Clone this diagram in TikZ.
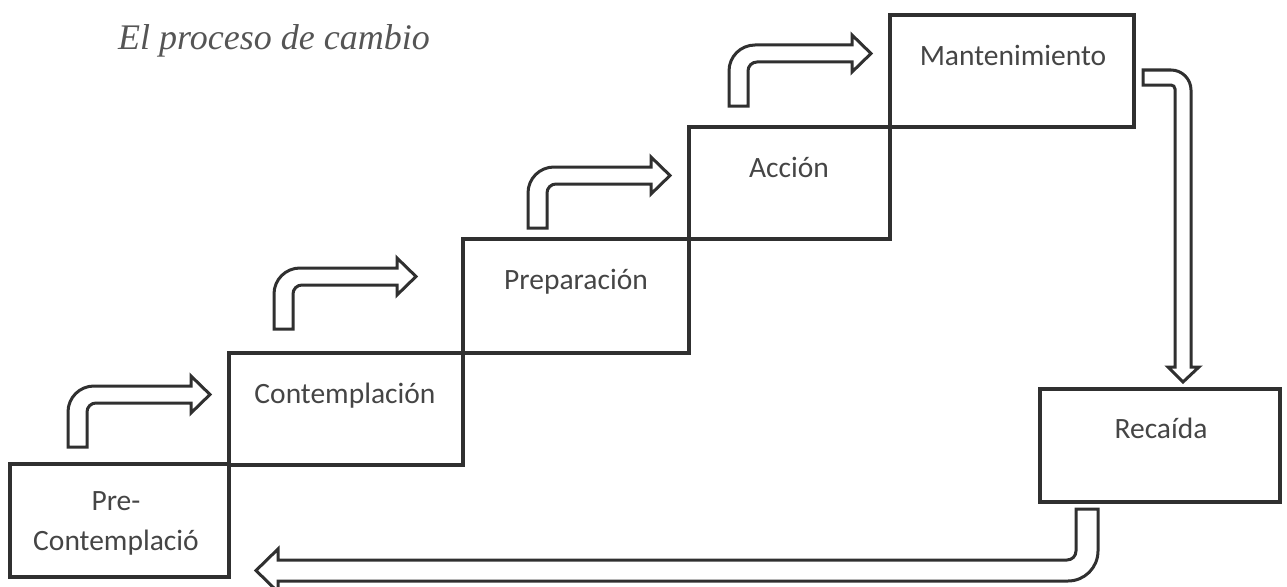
\documentclass[tikz,border=0pt]{standalone}
\usepackage{fontspec}
\setmainfont{Carlito}
\newfontfamily\titlefont{Liberation Serif}
\usetikzlibrary{calc}
\definecolor{ln}{HTML}{303030}
\definecolor{tx}{HTML}{454545}
\definecolor{tt}{HTML}{555555}
\tikzset{
  stage/.style={draw=ln, line width=3.3pt, rectangle, inner sep=0pt, outer sep=0pt},
  lbl/.style={text=tx, font=\fontsize{29.5}{40}\selectfont, inner sep=0pt, anchor=base},
  blockarr/.style={draw=ln, line width=3pt, fill=white, line join=miter},
  bentarrow/.pic={
    \draw[blockarr] (0,0) -- (0,-35) .. controls (0,-49.4) and (11.6,-61) .. (26,-61)
      -- (123,-61) -- (123,-71) -- (142,-52.5) -- (123,-34) -- (123,-44)
      -- (28,-44) .. controls (23,-44) and (19,-40) .. (19,-35) -- (19,0) -- cycle;
  }
}
\begin{document}
\begin{tikzpicture}[x=1pt,y=-1pt]
\useasboundingbox (0,0) rectangle (1287,586);

% title
\node[text=tt, font=\titlefont\itshape\fontsize{36}{40}\selectfont, anchor=base west, inner sep=0pt] (title) at (118,50) {El proceso de cambio};

% stage boxes
\node[stage, minimum width=219pt, minimum height=113pt] (pre)  at (119.5,520.5) {};
\node[stage, minimum width=234pt, minimum height=112pt] (cont) at (346,409) {};
\node[stage, minimum width=226pt, minimum height=114pt] (prep) at (576,296) {};
\node[stage, minimum width=201pt, minimum height=112pt] (acc)  at (789.5,183) {};
\node[stage, minimum width=244pt, minimum height=112pt] (mant) at (1012,71) {};
\node[stage, minimum width=240pt, minimum height=113pt] (rec)  at (1160,445.5) {};

% labels
\node[lbl, align=center] (tpre)  at (116,550) {Pre-\\Contemplació};
\node[lbl] (tcont) at (345,403) {Contemplación};
\node[lbl] (tprep) at (576,289) {Preparación};
\node[lbl] (tacc)  at (789,177) {Acción};
\node[lbl] (tmant) at (1013,66) {Mantenimiento};
\node[lbl] (trec)  at (1161,438) {Recaída};

% bent block arrows between stages
\pic (a1) at (68,447) {bentarrow};
\pic (a2) at (274,329) {bentarrow};
\pic (a3) at (528,228) {bentarrow};
\pic (a4) at (729,106) {bentarrow};

% Mantenimiento -> Recaida
\draw[blockarr] (1143,70) -- (1171,70) .. controls (1182,70) and (1191,79) .. (1191,90)
  -- (1191,367) -- (1199,367) -- (1183,382) -- (1168,367) -- (1175,367)
  -- (1175,89) .. controls (1175,86.8) and (1173.2,85) .. (1171,85) -- (1143,85) -- cycle;

% Recaida -> Pre-Contemplacion
\draw[blockarr] (1076,509) -- (1098,509) -- (1098,551) .. controls (1098,567.6) and (1084.6,581) .. (1068,581)
  -- (278,581) -- (278,592) -- (256,570.5) -- (278,549) -- (278,560)
  -- (1067,560) .. controls (1072,560) and (1076,556) .. (1076,551) -- cycle;
\end{tikzpicture}
\end{document}
